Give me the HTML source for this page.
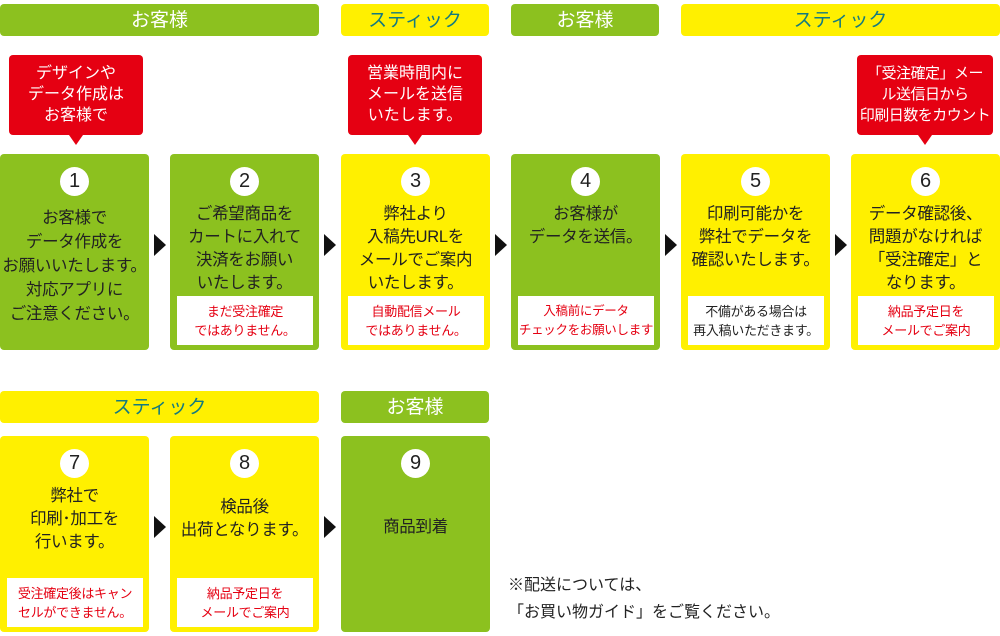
<!DOCTYPE html>
<html><head><meta charset="utf-8"><style>
*{margin:0;padding:0;box-sizing:border-box}
body{width:1000px;height:636px;background:#fff;position:relative;overflow:hidden;font-family:"Liberation Sans","Noto Sans CJK JP",sans-serif;color:#222}
.a{position:absolute}
.hd{position:absolute;height:32px;border-radius:4px;text-align:center;font-size:19px;line-height:33px}
.g{background:#8cc11f}.y{background:#fff000}
.hd.g{color:#fff}.hd.y{color:#137a80}
.card{position:absolute;width:149px;height:196px;border-radius:4px;text-align:center}
.num{position:absolute;left:60px;top:13px;width:29px;height:29px;border-radius:50%;background:#fff;font-size:20px;line-height:29px;text-align:center;color:#222}
.txt{position:absolute;left:0;right:0;top:49px;font-size:16.5px;line-height:23px;letter-spacing:-0.3px}
.note{position:absolute;left:7px;width:136px;height:49px;bottom:5px;background:#fff;color:#e50012;font-size:13px;line-height:19px;padding-top:6px;letter-spacing:-0.3px}
.note.k{color:#222}
.call{position:absolute;top:55px;height:80px;background:#e50012;color:#fff;border-radius:4px;text-align:center;font-size:16px;line-height:21px;padding-top:8px}
.call:after{content:"";position:absolute;left:50%;margin-left:-7px;bottom:-10px;border-left:7px solid transparent;border-right:7px solid transparent;border-top:10px solid #e50012}
.arr{position:absolute;width:0;height:0;border-top:11px solid transparent;border-bottom:11px solid transparent;border-left:12px solid #111}
</style></head><body>
<div class="hd g" style="left:0;top:4px;width:319px">お客様</div>
<div class="hd y" style="left:341px;top:4px;width:148px">スティック</div>
<div class="hd g" style="left:511px;top:4px;width:148px">お客様</div>
<div class="hd y" style="left:681px;top:4px;width:319px">スティック</div>

<div class="call" style="left:9px;width:134px">デザインや<br>データ作成は<br>お客様で</div>
<div class="call" style="left:348px;width:134px">営業時間内に<br>メールを送信<br>いたします。</div>
<div class="call" style="left:857px;width:136px;font-size:15px;letter-spacing:-0.5px">「受注確定」メー<br>ル送信日から<br>印刷日数をカウント</div>

<div class="card g" style="left:0;top:154px"><div class="num">1</div><div class="txt" style="top:52px;line-height:24px">お客様で<br>データ作成を<br>お願いいたします。<br>対応アプリに<br>ご注意ください。</div></div>
<div class="card g" style="left:170px;top:154px"><div class="num">2</div><div class="txt">ご希望商品を<br>カートに入れて<br>決済をお願い<br>いたします。</div><div class="note">まだ受注確定<br>ではありません。</div></div>
<div class="card y" style="left:341px;top:154px"><div class="num">3</div><div class="txt">弊社より<br>入稿先URLを<br>メールでご案内<br>いたします。</div><div class="note">自動配信メール<br>ではありません。</div></div>
<div class="card g" style="left:511px;top:154px"><div class="num">4</div><div class="txt">お客様が<br>データを送信。</div><div class="note" style="font-size:12.5px">入稿前にデータ<br>チェックをお願いします</div></div>
<div class="card y" style="left:681px;top:154px"><div class="num">5</div><div class="txt">印刷可能かを<br>弊社でデータを<br>確認いたします。</div><div class="note k">不備がある場合は<br>再入稿いただきます。</div></div>
<div class="card y" style="left:851px;top:154px"><div class="num">6</div><div class="txt">データ確認後、<br>問題がなければ<br>「受注確定」と<br>なります。</div><div class="note">納品予定日を<br>メールでご案内</div></div>

<div class="arr" style="left:154px;top:234px"></div>
<div class="arr" style="left:324px;top:234px"></div>
<div class="arr" style="left:495px;top:234px"></div>
<div class="arr" style="left:665px;top:234px"></div>
<div class="arr" style="left:835px;top:234px"></div>

<div class="hd y" style="left:0;top:391px;width:319px">スティック</div>
<div class="hd g" style="left:341px;top:391px;width:148px">お客様</div>

<div class="card y" style="left:0;top:436px"><div class="num">7</div><div class="txt">弊社で<br>印刷･加工を<br>行います。</div><div class="note">受注確定後はキャン<br>セルができません。</div></div>
<div class="card y" style="left:170px;top:436px"><div class="num">8</div><div class="txt" style="top:60px">検品後<br>出荷となります。</div><div class="note">納品予定日を<br>メールでご案内</div></div>
<div class="card g" style="left:341px;top:436px"><div class="num">9</div><div class="txt" style="top:80px">商品到着</div></div>
<div class="arr" style="left:154px;top:516px"></div>
<div class="arr" style="left:324px;top:516px"></div>

<div class="a" style="left:508px;top:572px;font-size:16px;line-height:27px">※配送については、<br>「お買い物ガイド」をご覧ください。</div>
</body></html>
